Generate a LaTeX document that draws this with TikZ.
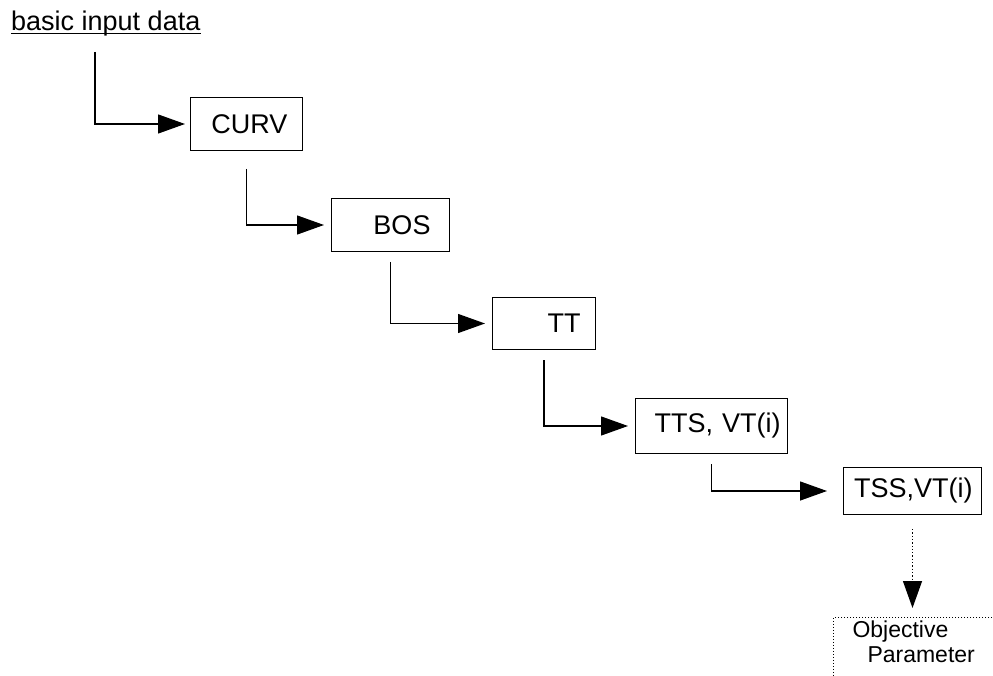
\documentclass[tikz,border=0pt]{standalone}
\usepackage{fontspec}
\setmainfont{Liberation Sans}
\usetikzlibrary{arrows.meta, positioning}

\begin{document}
\begin{tikzpicture}[
    x=1pt, y=-1pt,
    every node/.style={font=\fontsize{27}{32}\selectfont},
    box/.style={rectangle, draw, line width=1pt, anchor=north west, align=right, inner ysep=0pt},
    flow/.style={draw, -{Triangle[length=27pt, width=19pt]}, line width=1.3pt, shorten <=10pt, shorten >=7pt}
]
\useasboundingbox (0,0) rectangle (993,676);
\clip (0,0) rectangle (993,676);

\node[anchor=base west, inner sep=0pt] (title) at (11,31) {basic input data};
\draw[line width=1.2pt] ([yshift=-2.5pt]title.base west) -- ([yshift=-2.5pt]title.base east);

\node[box, text width=82pt, inner xsep=15pt, minimum height=53pt] (curv) at (190,97) {CURV};
\node[box, text width=80pt, inner xsep=19pt, minimum height=53pt] (bos) at (331,198) {BOS};
\node[box, text width=73pt, inner xsep=15pt, minimum height=52pt] (tt) at (492,297) {TT};
\node[box, text width=138pt, inner xsep=7pt, minimum height=55pt] (tts) at (635,398) {TTS, VT(i)};
\node[box, text width=120pt, inner xsep=9pt, minimum height=47pt] (tss) at (843,467) {TSS,VT(i)};
\node[box, dotted, align=left, text width=150pt, inner xsep=19pt, inner ysep=3pt, text depth=60pt,
      font=\fontsize{23}{25}\selectfont] (obj) at (833,617) {Objective\\\hspace*{15pt}Parameter};

\coordinate (in) at (95,52);
\draw[flow, shorten <=0pt, shorten >=5pt] (in) |- (curv.west);
\draw[flow, shorten <=18pt] (curv.south) |- (bos.west);
\draw[flow] (bos.south) |- (tt.west);
\draw[flow] (tt.south) |- (tts.west);
\draw[flow, shorten >=16pt] (tts.south) |- (tss.west);
\draw[flow, dotted, shorten <=14pt, shorten >=9pt] (tss.south) -- (tss.south |- obj.north);

\end{tikzpicture}
\end{document}
